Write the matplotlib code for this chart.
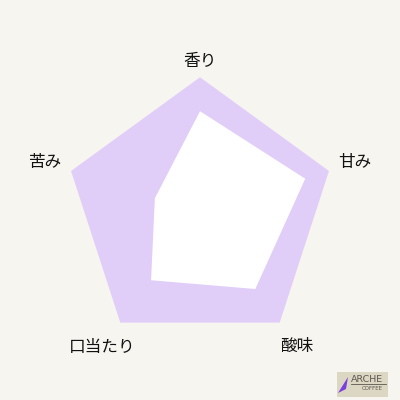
import numpy as np
import matplotlib
matplotlib.use('Agg')
import matplotlib.pyplot as plt
from matplotlib.patches import Rectangle, Polygon

plt.rcParams['font.family'] = ['Noto Sans CJK JP', 'DejaVu Sans']

# data
labels = ['香り', '甘み', '酸味', '口当たり', '苦み']
values = [3.75, 4.08, 3.47, 3.07, 1.75]
max_value = 5.0

bg = '#f6f5f0'
lavender = '#e0cdf8'

fig = plt.figure(figsize=(4, 4), dpi=100, facecolor=bg)
ax = fig.add_axes([0, 0, 1, 1])
ax.set_facecolor(bg)
ax.set_xlim(-1.475, 1.475)
ax.set_ylim(-1.380, 1.570)
ax.set_aspect('equal')
ax.axis('off')

n = len(labels)
angles = np.pi / 2 - np.arange(n) * 2 * np.pi / n

# outer pentagon
ox = np.cos(angles)
oy = np.sin(angles)
ax.fill(ox, oy, color=lavender, lw=0)

# value polygon
r = np.array(values) / max_value
ax.fill(r * np.cos(angles), r * np.sin(angles), color='white', lw=0)

label_r = [1.12, 1.2, 1.22, 1.23, 1.2]
for lab, a, lr in zip(labels, angles, label_r):
    ax.text(lr * np.cos(a), lr * np.sin(a), lab, ha='center', va='center',
            fontsize=12, color='#111111')

# logo
fig.patches.append(Rectangle((336.5 / 400, 1 - 397 / 400), 51 / 400, 25 / 400,
                             transform=fig.transFigure, facecolor='#dcd7c3',
                             edgecolor='none'))
fig.patches.append(Polygon([(338 / 400, 1 - 393 / 400), (348 / 400, 1 - 377 / 400),
                            (346 / 400, 1 - 389 / 400)],
                           closed=True, transform=fig.transFigure,
                           facecolor='#7b3fe0', edgecolor='none'))
fig.text(366.5 / 400, 1 - 379.5 / 400, 'ARCHE', ha='center', va='center',
         fontsize=6.8, color='#5a5750', family='DejaVu Sans')
fig.lines.append(plt.Line2D([351 / 400, 386 / 400], [1 - 383.5 / 400, 1 - 383.5 / 400],
                            transform=fig.transFigure, color='#5a5750', lw=0.6))
fig.text(372 / 400, 1 - 388.5 / 400, 'COFFEE', ha='center', va='center',
         fontsize=4, color='#5a5750', family='DejaVu Sans')

fig.savefig('out.png', dpi=100, facecolor=bg)
